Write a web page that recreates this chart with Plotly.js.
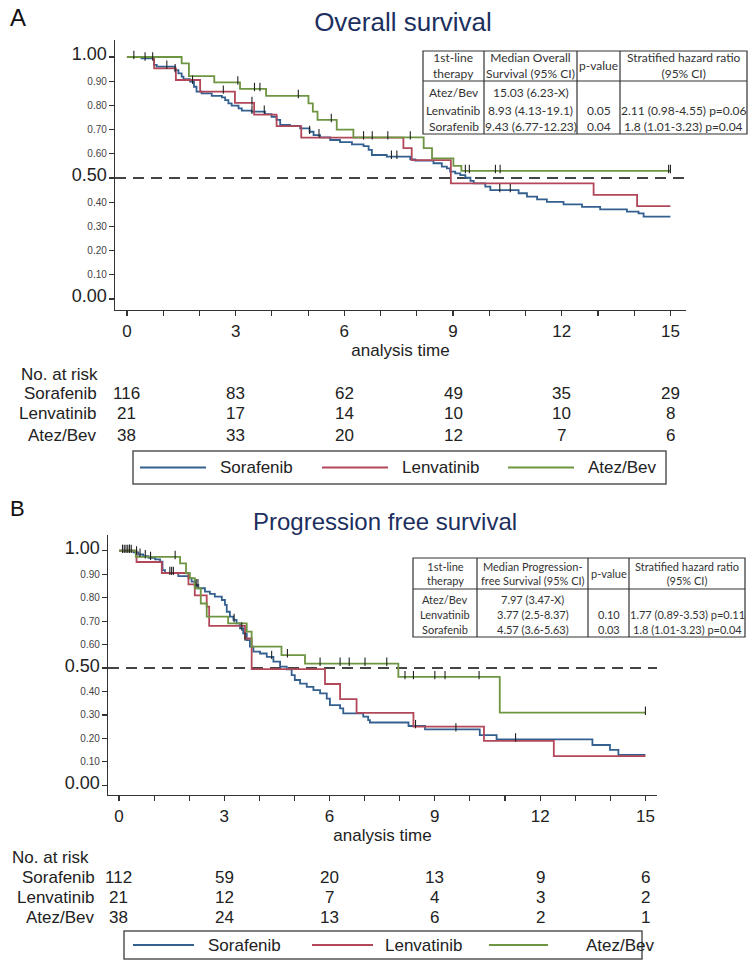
<!DOCTYPE html>
<html><head><meta charset="utf-8">
<script src="https://cdn.plot.ly/plotly-3.0.1.min.js"></script>
<style>html,body{margin:0;padding:0;background:#fff}</style>
</head><body><div id="chart" style="width:750px;height:968px"></div>
<script>
// ---------------- DATA ----------------
const groups = ['Sorafenib', 'Lenvatinib', 'Atez/Bev'];
const riskTimes = [0, 3, 6, 9, 12, 15];
const xTickVals = [0,1,2,3,4,5,6,7,8,9,10,11,12,13,14,15];
const xTickText = ['0','','','3','','','6','','','9','','','12','','','15'];
const yTickVals = [0,0.1,0.2,0.3,0.4,0.5,0.6,0.7,0.8,0.9,1.0];
const yTickText = ['0.00','0.10','0.20','0.30','0.40','0.50','0.60','0.70','0.80','0.90','1.00'];
const yMajorTicks = ['0.00','0.50','1.00'];

// Panel A: overall survival (Kaplan-Meier steps: time of drop, survival after drop)
const osSorT = [0,0.40,0.75,0.82,1.33,1.42,1.51,1.56,1.74,1.85,1.92,2.06,2.34,2.62,2.71,2.80,2.89,3.08,3.17,3.44,3.81,3.99,4.13,4.23,4.50,4.78,5.04,5.15,5.33,5.61,5.88,6.21,6.53,6.67,6.76,7.17,7.82,7.96,8.46,8.69,8.83,8.92,9.06,9.20,9.34,9.48,9.57,9.89,10.03,10.81,11.04,11.32,11.59,12.05,12.56,13.06,13.80,14.12,14.26,15.0];
const osSorS = [1,0.994,0.967,0.960,0.946,0.932,0.919,0.908,0.898,0.877,0.857,0.850,0.839,0.833,0.822,0.808,0.799,0.788,0.778,0.774,0.764,0.753,0.740,0.719,0.715,0.705,0.691,0.677,0.668,0.657,0.648,0.639,0.632,0.616,0.595,0.588,0.577,0.572,0.561,0.547,0.540,0.526,0.519,0.512,0.501,0.488,0.478,0.464,0.450,0.437,0.423,0.412,0.401,0.391,0.381,0.370,0.361,0.354,0.340,0.340];
const osLenT = [0,0.75,1.35,2.02,2.98,3.51,4.13,4.81,7.63,7.86,8.94,12.88,14.08,15.0];
const osLenS = [1,0.953,0.905,0.857,0.810,0.762,0.714,0.667,0.623,0.574,0.478,0.430,0.384,0.384];
const osAtzT = [0,1.51,1.71,2.41,3.12,3.84,5.01,5.13,5.26,5.79,6.25,8.19,8.42,9.01,9.23,15.0];
const osAtzS = [1,0.974,0.921,0.895,0.868,0.839,0.808,0.774,0.740,0.700,0.668,0.623,0.581,0.550,0.529,0.529];
const osSorCens = [0.5,0.71,1.1,1.33,1.81,3.45,3.79,5.04,5.3,7.3,7.45,10.29,10.58];
const osLenCens = [2.66,3.45];
const osAtzCens = [0.19,3.06,3.52,3.67,4.73,5.64,6.53,6.77,7.2,7.82,9.34,9.45,10.17,10.3,14.95,15.0];
const osRiskSor = [116,83,62,49,35,29];
const osRiskLen = [21,17,14,10,10,8];
const osRiskAtz = [38,33,20,12,7,6];

// Panel B: progression free survival
const pfsSorT = [0,0.41,0.55,0.69,0.84,1.03,1.17,1.24,1.31,1.69,1.98,2.07,2.16,2.26,2.45,2.59,2.73,2.93,3.02,3.07,3.16,3.26,3.35,3.45,3.54,3.64,3.73,3.83,4.02,4.21,4.40,4.59,4.78,4.92,5.01,5.16,5.35,5.54,5.73,5.92,6.01,6.30,6.39,6.96,7.10,7.15,8.25,8.72,10.28,10.76,13.49,13.99,14.23,15.0];
const pfsSorS = [1,0.993,0.984,0.977,0.970,0.963,0.953,0.917,0.906,0.892,0.882,0.868,0.854,0.840,0.826,0.816,0.804,0.790,0.769,0.740,0.719,0.705,0.690,0.669,0.648,0.619,0.591,0.570,0.562,0.548,0.527,0.506,0.494,0.470,0.449,0.434,0.420,0.406,0.392,0.370,0.342,0.328,0.307,0.293,0.278,0.268,0.253,0.239,0.214,0.196,0.172,0.151,0.130,0.130];
const pfsLenT = [0,0.50,1.22,1.98,2.16,2.50,2.57,3.59,3.78,5.87,6.30,6.77,8.39,10.40,12.39,15.0];
const pfsLenS = [1,0.952,0.905,0.857,0.810,0.762,0.680,0.626,0.495,0.432,0.368,0.309,0.250,0.190,0.125,0.125];
const pfsAtzT = [0,0.48,1.74,1.91,2.02,2.16,2.33,2.50,3.11,3.64,3.78,4.63,5.30,7.96,10.85,15.0];
const pfsAtzS = [1,0.974,0.946,0.904,0.883,0.840,0.775,0.719,0.690,0.655,0.591,0.555,0.519,0.462,0.310,0.310];
const pfsSorCens = [0.1,0.15,0.2,0.25,0.3,0.35,0.5,0.6,0.75,0.9,1.45,1.5,1.55,2.2,2.25,3.28,3.5,4.35,8.45,9.6,11.3];
const pfsLenCens = [3.59];
const pfsAtzCens = [0.3,1.6,4.8,5.73,6.30,6.56,7.01,7.63,8.15,8.39,9.0,9.29,10.26,15.0];
const pfsRiskSor = [112,59,20,13,9,6];
const pfsRiskLen = [21,12,7,4,3,2];
const pfsRiskAtz = [38,24,13,6,2,1];

// Tables
const osTableHeader = ['1st-line<br>therapy','Median Overall<br>Survival (95% CI)','p-value','Stratified hazard ratio<br>(95% CI)'];
const osTableRows = [
  ['Atez/Bev','15.03 (6.23-X)','',''],
  ['Lenvatinib','8.93 (4.13-19.1)','0.05','2.11 (0.98-4.55) p=0.06'],
  ['Sorafenib','9.43 (6.77-12.23)','0.04','1.8 (1.01-3.23) p=0.04']
];
const pfsTableHeader = ['1st-line<br>therapy','Median Progression-<br>free Survival (95% CI)','p-value','Stratified hazard ratio<br>(95% CI)'];
const pfsTableRows = [
  ['Atez/Bev','7.97 (3.47-X)','',''],
  ['Lenvatinib','3.77 (2.5-8.37)','0.10','1.77 (0.89-3.53) p=0.11'],
  ['Sorafenib','4.57 (3.6-5.63)','0.03','1.8 (1.01-3.23) p=0.04']
];

// ---------------- STYLE / GEOMETRY ----------------
const W = 750, H = 968;
const colors = ['#33608f', '#b3475a', '#6e9541'];
const FONT = '"Liberation Sans", Arial, sans-serif';
const TFONT = 'Lato, "Open Sans", sans-serif';
const px = x => x / W;
const py = y => 1 - y / H;

function sAt(ts, ss, t) { let v = ss[0]; for (let i = 0; i < ts.length; i++) if (ts[i] <= t) v = ss[i]; return v; }

const traces = [];
function addPanel(xa, ya, series) {
  series.forEach((s, i) => {
    traces.push({type:'scatter', mode:'lines', name: groups[i], x: s.t, y: s.s, xaxis: xa, yaxis: ya,
      line:{shape:'hv', color: colors[i], width: 1.8}, hoverinfo:'skip'});
  });
  series.forEach((s, i) => {
    traces.push({type:'scatter', mode:'markers', name: groups[i] + ' censored', x: s.c, y: s.c.map(t => sAt(s.t, s.s, t) + 0.008),
      xaxis: xa, yaxis: ya, marker:{symbol:'line-ns', size:6, color:'#222', line:{width:1.1, color:'#222'}}, hoverinfo:'skip'});
  });
}
addPanel('x', 'y', [{t:osSorT,s:osSorS,c:osSorCens},{t:osLenT,s:osLenS,c:osLenCens},{t:osAtzT,s:osAtzS,c:osAtzCens}]);
addPanel('x2', 'y2', [{t:pfsSorT,s:pfsSorS,c:pfsSorCens},{t:pfsLenT,s:pfsLenS,c:pfsLenCens},{t:pfsAtzT,s:pfsAtzS,c:pfsAtzCens}]);

const yText = yTickText.map(t => yMajorTicks.includes(t) ? '<span style="font-size:18px;fill:#222">' + t + '</span>' : t);

function xAxis(domain, range, anchor) {
  return {domain, range, anchor, showline:true, linecolor:'#333', linewidth:1.2, ticks:'outside', ticklen:5, tickwidth:1.1,
    tickcolor:'#333', tickmode:'array', tickvals:xTickVals, ticktext:xTickText, showgrid:false, zeroline:false,
    tickfont:{family:FONT, size:17, color:'#222'},
    title:{text:'analysis time', font:{family:FONT, size:17, color:'#222'}, standoff:0}};
}
function yAxis(domain, range, anchor) {
  return {domain, range, anchor, showline:true, linecolor:'#333', linewidth:1.2, ticks:'outside', ticklen:5, tickwidth:1.1,
    tickcolor:'#333', tickmode:'array', tickvals:yTickVals, ticktext:yText, showgrid:false, zeroline:false,
    tickfont:{family:FONT, size:10, color:'#444'}};
}

const shapes = [];
const annotations = [];

// median reference lines
shapes.push({type:'line', xref:'x domain', yref:'y', x0:0, x1:1, y0:0.5, y1:0.5, layer:'below', line:{color:'#444', width:2, dash:'11px,7px'}});
shapes.push({type:'line', xref:'x2 domain', yref:'y2', x0:0, x1:1, y0:0.5, y1:0.5, layer:'below', line:{color:'#444', width:2, dash:'11px,7px'}});

// tables
function addTable(g, header, rows, fsz) {
  shapes.push({type:'rect', xref:'paper', yref:'paper', x0:px(g.left), x1:px(g.right), y0:py(g.top), y1:py(g.bottom), line:{color:'#333', width:1.2}, fillcolor:'rgba(255,255,255,0.95)'});
  shapes.push({type:'line', xref:'paper', yref:'paper', x0:px(g.left), x1:px(g.right), y0:py(g.hb), y1:py(g.hb), line:{color:'#333', width:1.2}});
  g.cols.forEach(c => shapes.push({type:'line', xref:'paper', yref:'paper', x0:px(c), x1:px(c), y0:py(g.top), y1:py(g.bottom), line:{color:'#333', width:1.2}}));
  const edges = [g.left].concat(g.cols, [g.right]);
  header.forEach((h, j) => annotations.push({xref:'paper', yref:'paper', x:px((edges[j]+edges[j+1])/2), y:py((g.top+g.hb)/2),
    text:h, showarrow:false, xanchor:'center', yanchor:'middle', font:{family:TFONT, size:fsz, color:'#333'}}));
  rows.forEach((r, i) => r.forEach((cell, j) => { if (cell) annotations.push({xref:'paper', yref:'paper', x:px((edges[j]+edges[j+1])/2), y:py(g.rows[i]),
    text:cell, showarrow:false, xanchor:'center', yanchor:'middle', font:{family:TFONT, size:fsz, color:'#333'}}); }));
}
addTable({left:423, right:747, cols:[484,577,620], top:51, hb:81, bottom:134, rows:[93,110,126]}, osTableHeader, osTableRows, 12);
addTable({left:413, right:745, cols:[477,588,629], top:558, hb:589, bottom:637, rows:[599,614,629]}, pfsTableHeader, pfsTableRows, 11);

// at-risk tables
function addRisk(xref, yHead, ys, labelRight, headLeft, data) {
  annotations.push({xref:'paper', yref:'paper', x:px(headLeft), y:py(yHead), text:'No. at risk', showarrow:false, xanchor:'left', yanchor:'middle', font:{family:FONT, size:17, color:'#222'}});
  data.forEach((vals, i) => {
    annotations.push({xref:'paper', yref:'paper', x:px(labelRight), y:py(ys[i]), text:groups[i], showarrow:false, xanchor:'right', yanchor:'middle', font:{family:FONT, size:17, color:'#222'}});
    vals.forEach((v, k) => annotations.push({xref:xref, yref:'paper', x:riskTimes[k], y:py(ys[i]), text:String(v), showarrow:false, xanchor:'center', yanchor:'middle', font:{family:FONT, size:17, color:'#222'}}));
  });
}
addRisk('x', 374, [394,414,435], 99, 19, [osRiskSor, osRiskLen, osRiskAtz]);
addRisk('x2', 857, [877,897,917], 97, 10, [pfsRiskSor, pfsRiskLen, pfsRiskAtz]);

// legends (drawn boxes)
function addLegend(g) {
  shapes.push({type:'rect', xref:'paper', yref:'paper', x0:px(g.left), x1:px(g.right), y0:py(g.top), y1:py(g.bottom), line:{color:'#555', width:1.5}});
  const ym = (g.top + g.bottom) / 2;
  groups.forEach((name, i) => {
    shapes.push({type:'line', xref:'paper', yref:'paper', x0:px(g.lines[i][0]), x1:px(g.lines[i][1]), y0:py(ym), y1:py(ym), line:{color:colors[i], width:1.8}});
    annotations.push({xref:'paper', yref:'paper', x:px(g.text[i]), y:py(ym), text:name, showarrow:false, xanchor:'left', yanchor:'middle', font:{family:FONT, size:17, color:'#222'}});
  });
}
addLegend({left:133, right:666, top:451, bottom:484, lines:[[140,206],[322,388],[508,574]], text:[218,400,586]});
addLegend({left:124, right:642, top:931, bottom:959, lines:[[133,194],[312,373],[489,548]], text:[206,383,584]});

// panel letters and B title
annotations.push({xref:'paper', yref:'paper', x:px(8), y:py(17), text:'A', showarrow:false, xanchor:'left', yanchor:'middle', font:{family:FONT, size:24, color:'#111'}});
annotations.push({xref:'paper', yref:'paper', x:px(8), y:py(508), text:'B', showarrow:false, xanchor:'left', yanchor:'middle', font:{family:FONT, size:22, color:'#111'}});
annotations.push({xref:'paper', yref:'paper', x:px(385), y:py(521), text:'Progression free survival', showarrow:false, xanchor:'center', yanchor:'middle', font:{family:FONT, size:24, color:'#1d2f5e'}});

const layout = {
  width: W, height: H, margin:{l:0, r:0, t:0, b:0}, paper_bgcolor:'#fff', plot_bgcolor:'rgba(0,0,0,0)', showlegend:false,
  title:{text:'Overall survival', x:px(403), y:py(22), xref:'paper', yref:'paper', xanchor:'center', yanchor:'middle', font:{family:FONT, size:26, color:'#1d2f5e'}},
  xaxis: xAxis([px(115), px(686)], [-0.33, 15.43], 'y'),
  yaxis: yAxis([py(310), py(40)], [-0.0455, 1.0702], 'x'),
  xaxis2: xAxis([px(108), px(657)], [-0.313, 15.33], 'y2'),
  yaxis2: yAxis([py(795), py(535)], [-0.041, 1.067], 'x2'),
  shapes, annotations
};
Plotly.newPlot('chart', traces, layout, {staticPlot:true, displayModeBar:false});
</script>
</body></html>
